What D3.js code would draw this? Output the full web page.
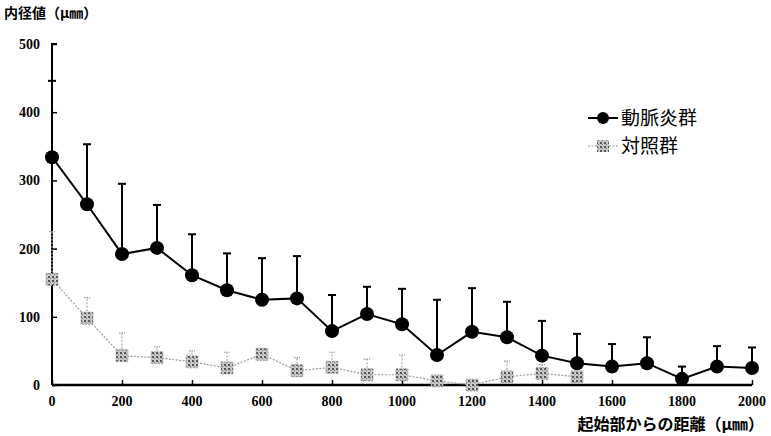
<!DOCTYPE html>
<html>
<head>
<meta charset="utf-8">
<script src="https://cdn.jsdelivr.net/npm/d3@7"></script>
<style>
  body { margin: 0; background: #fff; }
  svg { display: block; }
  .tick-label { font-family: "Liberation Serif", "DejaVu Serif", serif; font-weight: bold; font-size: 14px; }
  .jp { font-family: "Noto Sans CJK JP", sans-serif; }
</style>
</head>
<body>
<svg width="771" height="436"></svg>
<script>
// distance from origin (μm)
const distArteritis = [0, 100, 200, 300, 400, 500, 600, 700, 800, 900, 1000, 1100, 1200, 1300, 1400, 1500, 1600, 1700, 1800, 1900, 2000];
const meanArteritis = [334, 265, 192, 201, 161, 139, 125, 127, 79, 104, 89, 44, 78, 70, 43, 32, 27, 32, 9, 27, 25];
const upperArteritis = [446, 353, 295, 264, 221, 193, 186, 189, 132, 144, 141, 125, 142, 122, 94, 75, 60, 70, 27, 57, 55];

const distControl = [0, 100, 200, 300, 400, 500, 600, 700, 800, 900, 1000, 1100, 1200, 1300, 1400, 1500];
const meanControl = [155, 98, 43, 40, 34, 25, 45, 21, 26, 15, 15, 6, 0, 12, 17, 12];
const upperControl = [225, 128, 76, 56, 50, 48, 45, 40, 48, 38, 44, 6, 0, 35, 30, 12];

const yTicks = [0, 100, 200, 300, 400, 500];
const xTicks = [0, 200, 400, 600, 800, 1000, 1200, 1400, 1600, 1800, 2000];

const labelY = "内径値（μ㎜）";
const labelX = "起始部からの距離（μ㎜）";
const legendNames = ["動脈炎群", "対照群"];

const svg = d3.select("svg");

const xScale = d3.scaleLinear().domain([0, 2000]).range([52, 752]);
const yScale = d3.scaleLinear().domain([0, 500]).range([385, 44]);

// speckled pattern for the control markers
const pat = svg.append("defs").append("pattern")
  .attr("id", "speckle")
  .attr("width", 4).attr("height", 4)
  .attr("patternUnits", "userSpaceOnUse");
pat.append("rect").attr("width", 4).attr("height", 4).attr("fill", "#c8c8c8");
pat.append("rect").attr("x", 0).attr("y", 0).attr("width", 2).attr("height", 2).attr("fill", "#555");
pat.append("rect").attr("x", 2).attr("y", 2).attr("width", 1).attr("height", 1).attr("fill", "#777");

// axes
const yAxis = d3.axisRight(yScale).tickValues(yTicks).tickSize(5).tickFormat("");
svg.append("g")
  .attr("transform", "translate(52,0)")
  .call(yAxis)
  .call(g => g.select(".domain").attr("stroke-width", 2).attr("d", "M5,44H0V385"))
  .call(g => g.selectAll(".tick line").attr("stroke-width", 1.5));

const xAxis = d3.axisTop(xScale).tickValues(xTicks).tickSize(5).tickFormat("");
svg.append("g")
  .attr("transform", "translate(0,385)")
  .call(xAxis)
  .call(g => g.select(".domain").attr("stroke-width", 2.5).attr("d", "M52,0H752"))
  .call(g => g.selectAll(".tick line").attr("stroke-width", 1.5));

svg.selectAll("text.ylab")
  .data(yTicks)
  .enter()
  .append("text")
  .attr("class", "tick-label ylab")
  .attr("x", 40)
  .attr("y", d => yScale(d) + 5)
  .attr("text-anchor", "end")
  .text(d => d);

svg.selectAll("text.xlab")
  .data(xTicks)
  .enter()
  .append("text")
  .attr("class", "tick-label xlab")
  .attr("x", d => xScale(d))
  .attr("y", 406)
  .attr("text-anchor", "middle")
  .text(d => d);

svg.append("text").attr("class", "jp")
  .attr("x", 4).attr("y", 18)
  .attr("font-size", 14).attr("font-weight", "bold")
  .text(labelY);

svg.append("text").attr("class", "jp")
  .attr("x", 764).attr("y", 430)
  .attr("text-anchor", "end")
  .attr("font-size", 16).attr("font-weight", "bold")
  .text(labelX);

// control series (gray, dotted)
const ctrl = distControl.map((d, i) => ({ x: d, y: meanControl[i], up: upperControl[i] }));
const line = d3.line().x(d => xScale(d.x)).y(d => yScale(d.y));

const ctrlBars = ctrl.filter(d => d.up > d.y);
svg.selectAll("line.cbar")
  .data(ctrlBars)
  .enter()
  .append("line")
  .attr("x1", d => xScale(d.x)).attr("x2", d => xScale(d.x))
  .attr("y1", d => yScale(d.y)).attr("y2", d => yScale(d.up))
  .attr("stroke", "#aaa").attr("stroke-width", 1.2).attr("stroke-dasharray", "2,1.5");
svg.selectAll("line.ccap")
  .data(ctrlBars)
  .enter()
  .append("line")
  .attr("x1", d => xScale(d.x) - 3).attr("x2", d => xScale(d.x) + 3)
  .attr("y1", d => yScale(d.up)).attr("y2", d => yScale(d.up))
  .attr("stroke", "#999").attr("stroke-width", 1.2).attr("stroke-dasharray", "1.5,1");

svg.append("path")
  .attr("d", line(ctrl))
  .attr("fill", "none")
  .attr("stroke", "#9a9a9a")
  .attr("stroke-width", 1.2)
  .attr("stroke-dasharray", "2,1.5");

svg.selectAll("rect.cpt")
  .data(ctrl)
  .enter()
  .append("rect")
  .attr("x", d => xScale(d.x) - 6).attr("y", d => yScale(d.y) - 6)
  .attr("width", 12).attr("height", 12)
  .attr("fill", "url(#speckle)")
  .attr("stroke", "#999").attr("stroke-width", 0.8).attr("stroke-dasharray", "2,1");

// arteritis series (black)
const art = distArteritis.map((d, i) => ({ x: d, y: meanArteritis[i], up: upperArteritis[i] }));

svg.selectAll("line.abar")
  .data(art)
  .enter()
  .append("line")
  .attr("x1", d => xScale(d.x)).attr("x2", d => xScale(d.x))
  .attr("y1", d => yScale(d.y)).attr("y2", d => yScale(d.up))
  .attr("stroke", "#000").attr("stroke-width", 2);
svg.selectAll("line.acap")
  .data(art)
  .enter()
  .append("line")
  .attr("x1", d => xScale(d.x) - 4).attr("x2", d => xScale(d.x) + 4)
  .attr("y1", d => yScale(d.up)).attr("y2", d => yScale(d.up))
  .attr("stroke", "#000").attr("stroke-width", 2);

svg.append("path")
  .attr("d", line(art))
  .attr("fill", "none")
  .attr("stroke", "#000")
  .attr("stroke-width", 2);

svg.selectAll("circle.apt")
  .data(art)
  .enter()
  .append("circle")
  .attr("cx", d => xScale(d.x)).attr("cy", d => yScale(d.y))
  .attr("r", 7)
  .attr("fill", "#000");

// legend
const lg = svg.append("g").attr("transform", "translate(588,118)");
lg.append("line").attr("x1", 0).attr("x2", 30).attr("y1", 0).attr("y2", 0)
  .attr("stroke", "#000").attr("stroke-width", 2);
lg.append("circle").attr("cx", 15).attr("cy", 0).attr("r", 6).attr("fill", "#000");
lg.append("text").attr("class", "jp").attr("x", 33).attr("y", 7)
  .attr("font-size", 19).text(legendNames[0]);

lg.append("line").attr("x1", 0).attr("x2", 30).attr("y1", 28).attr("y2", 28)
  .attr("stroke", "#9a9a9a").attr("stroke-width", 1.2).attr("stroke-dasharray", "2,1.5");
lg.append("rect").attr("x", 9).attr("y", 22).attr("width", 12).attr("height", 12)
  .attr("fill", "url(#speckle)");
lg.append("text").attr("class", "jp").attr("x", 33).attr("y", 35)
  .attr("font-size", 19).text(legendNames[1]);
</script>
</body>
</html>
